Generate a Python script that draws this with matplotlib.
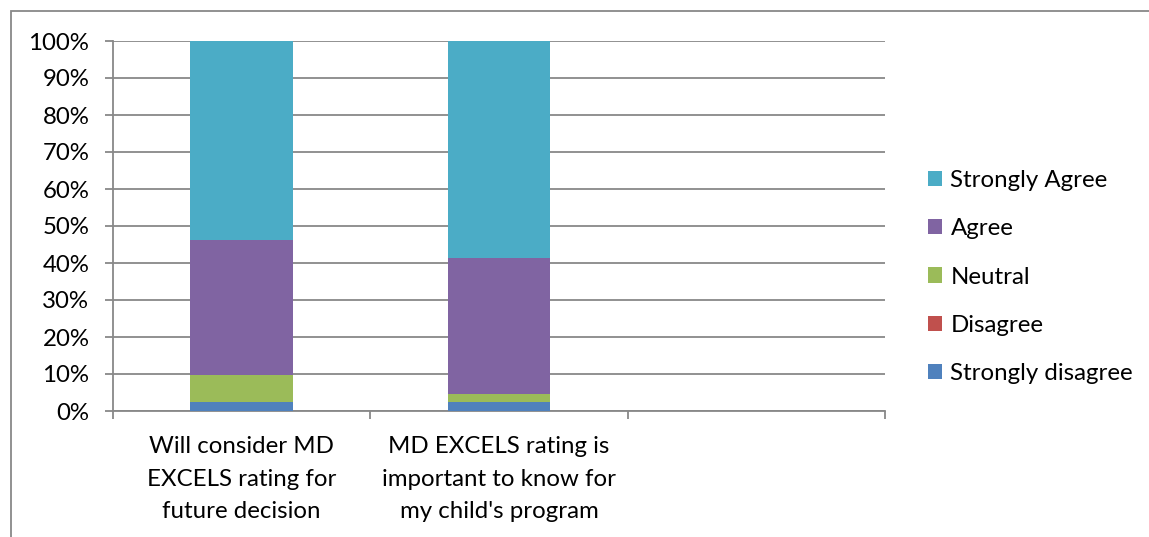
import matplotlib
matplotlib.use("Agg")
import matplotlib.pyplot as plt
from matplotlib.patches import Rectangle
import numpy as np

categories = ["Will consider MD\nEXCELS rating for\nfuture decision",
              "MD EXCELS rating is\nimportant to know for\nmy child's program",
              ""]
series_names = ["Strongly disagree", "Disagree", "Neutral", "Agree", "Strongly Agree"]
strongly_disagree = [2.4, 2.3]
disagree = [0.0, 0.0]
neutral = [7.3, 2.4]
agree = [36.5, 36.7]
strongly_agree = [53.8, 58.6]
colors = ["#4F81BD", "#C0504D", "#9BBB59", "#8064A2", "#4BACC6"]
yticklabels = ["0%", "10%", "20%", "30%", "40%", "50%", "60%", "70%", "80%", "90%", "100%"]

plt.rcParams['font.family'] = ['Lato', 'DejaVu Sans']
fs = 17.3

fig = plt.figure(figsize=(11.49, 5.37), dpi=100)
fig.patches.append(Rectangle((11/1149, -0.2), 1.5, 1.2 - 11/537 + 0.0,
                             transform=fig.transFigure, fill=False,
                             edgecolor="#888888", linewidth=1.3))
ax = fig.add_axes([113/1149, 1 - 411/537, (885 - 113)/1149, (411 - 41)/537])

data = [strongly_disagree, disagree, neutral, agree, strongly_agree]
x = np.arange(len(strongly_disagree))
bottom = np.zeros(len(x))
handles = []
for name, vals, c in zip(series_names, data, colors):
    vals = np.array(vals)
    h = ax.bar(x, vals, 0.4, bottom=bottom, color=c, label=name, zorder=3)
    handles.append(h)
    bottom += vals

ax.set_xlim(-0.5, 2.5)
ax.set_ylim(0, 100)
ax.set_yticks(np.arange(0, 101, 10))
ax.set_yticklabels(yticklabels, fontsize=fs)
ax.yaxis.grid(True, color="#888888", linewidth=1.3, zorder=0)
ax.set_axisbelow(True)
ax.tick_params(axis='y', length=6, width=1.3, color="#888888", pad=11)

ax.set_xticks([-0.5, 0.5, 1.5, 2.5])
ax.set_xticklabels([])
ax.set_xticks([0, 1, 2], minor=True)
ax.set_xticklabels(categories, minor=True, fontsize=fs)
for t in ax.get_xticklabels(minor=True):
    t.set_linespacing(1.68)
ax.tick_params(axis='x', which='minor', length=0, pad=18)
ax.tick_params(axis='x', which='major', length=6, width=1.3, color="#888888")

for s in ["top", "right"]:
    ax.spines[s].set_visible(False)
for s in ["left", "bottom"]:
    ax.spines[s].set_color("#888888")
    ax.spines[s].set_linewidth(1.3)

leg = fig.legend(handles[::-1], series_names[::-1], loc="center left",
                 bbox_to_anchor=(906/1149, 1 - 277/537), frameon=False,
                 fontsize=fs, handlelength=0.6, handleheight=0.6,
                 handletextpad=0.35, labelspacing=1.14)

fig.savefig("out.png", dpi=100)
